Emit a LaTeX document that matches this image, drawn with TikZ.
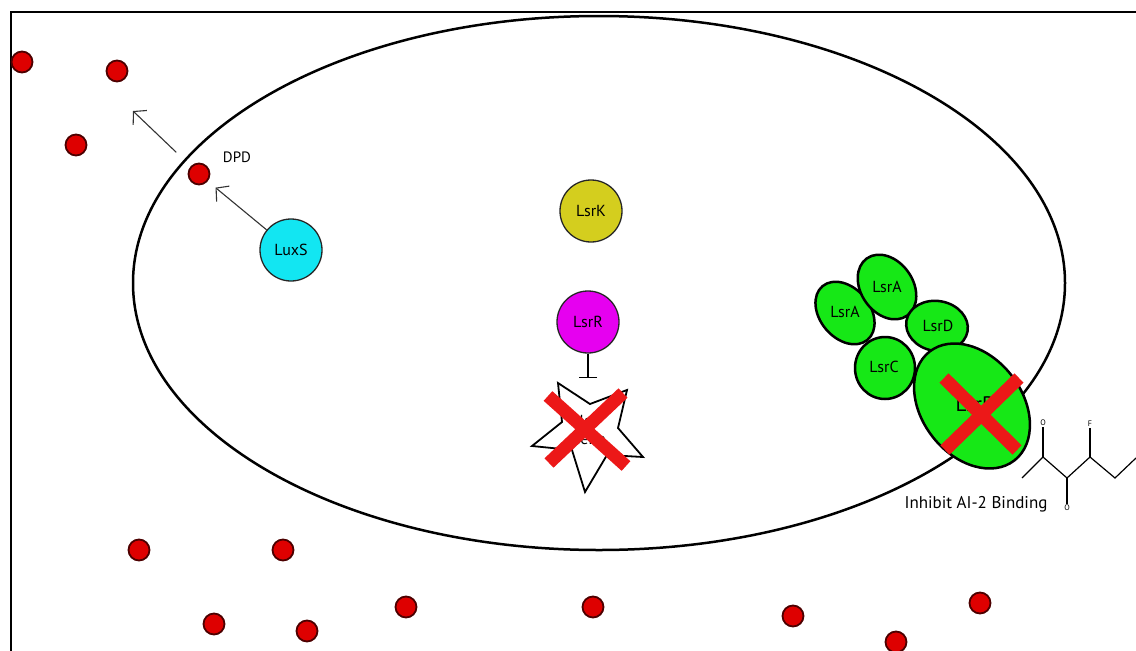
\documentclass[tikz,border=0pt]{standalone}
\usepackage{fontspec}
\setmainfont{PT Sans}
\usetikzlibrary{arrows.meta}

\definecolor{aitwo}{RGB}{222,0,0}
\definecolor{koRed}{RGB}{236,24,24}
\definecolor{luxCyan}{RGB}{18,230,242}
\definecolor{lsrYellow}{RGB}{212,206,30}
\definecolor{lsrMagenta}{RGB}{230,0,240}
\definecolor{lsrGreen}{RGB}{22,232,22}

\tikzset{
  ai2/.style={circle,draw=black!70!red,fill=aitwo,line width=1.8pt,
    minimum size=21pt,inner sep=0pt},
  enzyme/.style={circle,draw=black!85,line width=1.3pt,minimum size=62pt,
    inner sep=0pt,font=\fontsize{16}{18}\selectfont},
  protein/.style={draw=black,line width=2.5pt,fill=lsrGreen},
  plabel/.style={font=\fontsize{16}{18}\selectfont},
  knockout/.style={draw=koRed,line width=13pt},
  arr/.style={-{Straight Barb[length=9pt,width=20pt]},line width=1.1pt,draw=black!80},
  atom/.style={font=\fontsize{8}{9}\selectfont,inner sep=1pt},
}

\begin{document}
\begin{tikzpicture}[x=1pt,y=-1pt]
\useasboundingbox (0,0) rectangle (1136,651);

% frame and cell membrane
\draw[line width=2pt] (11,651) -- (11,12) -- (1136,12);
\draw[line width=2.5pt] (599,283) ellipse (466 and 267);

% AI-2 molecules
\foreach \n/\x/\y in {1/22/62, 2/117/71, 3/76/145, 4/199/174, 5/139/550,
    6/283/550, 7/214/624, 8/307/631, 9/406/607, 10/593/607,
    11/793/616, 12/896/642, 13/980/603}
  \node (d\n) [ai2] at (\x,\y) {};

\node (luxS) [enzyme,fill=luxCyan] at (291,250) {LuxS};
\node (lsrK) [enzyme,fill=lsrYellow] at (591,211) {LsrK};
\node (lsrR) [enzyme,fill=lsrMagenta] at (588,322) {LsrR};

% DPD made by LuxS and exported
\coordinate (exp) at (133,111);
\draw[arr,shorten >=10pt] (luxS) -- (d4);
\draw[arr,shorten <=20pt] (d4) -- (exp);
\node (dpd) [font=\fontsize{15}{17}\selectfont] at (237,157) {DPD};

% repressed genes
\draw[line width=1.8pt,fill=white]
  (558,383) -- (590,404) -- (627,390) -- (618,428) -- (643,457)
  -- (607,455) -- (585,492) -- (572,450) -- (532,446) -- (562,422) -- cycle;
\node (genes) [plabel,align=center,inner sep=0pt] at (588,430) {lsr\\Gene};
\coordinate (stop) at (588,378);
\draw[-{Bar[width=18pt,line width=1.2pt]},line width=1.2pt] (lsrR) -- (stop);
\draw[knockout] (548,396) -- (626,466) (623,393) -- (549,463);

% Lsr transporter
\draw[protein,rotate around={-50:(845,313)}] (845,313) ellipse (35 and 25);
\node (lsrA1) [plabel] at (845,312) {LsrA};
\draw[protein,rotate around={-55:(887,287)}] (887,287) ellipse (35 and 26);
\node (lsrA2) [plabel] at (887,287) {LsrA};
\draw[protein,rotate around={-10:(937,326)}] (937,326) ellipse (31 and 25);
\node (lsrD) [plabel] at (938,326) {LsrD};
\draw[protein] (885,368) ellipse (30 and 31);
\node (lsrC) [plabel] at (884,367) {LsrC};
\draw[protein,rotate around={-52:(972,406)}] (972,406) ellipse (69 and 50);
\node (lsrB) [font=\fontsize{21}{23}\selectfont] at (975,404) {LsrB};
\draw[knockout] (944,378) -- (1017,450) (1019,378) -- (945,450);

% inhibitor
\draw[line width=1.2pt] (1022,478) -- (1043,457) -- (1067,478) -- (1090,457)
  -- (1115,478) -- (1136,458);
\node (o1) [atom] at (1043,423) {O};
\node (f1) [atom] at (1090,424) {F};
\node (o2) [atom] at (1067,508) {O};
\draw[line width=1.2pt] (1043,457) -- (o1) (1090,457) -- (f1) (1067,478) -- (o2);
\node (inh) [font=\fontsize{17}{19}\selectfont] at (976,504) {Inhibit AI-2 Binding};
\end{tikzpicture}
\end{document}
